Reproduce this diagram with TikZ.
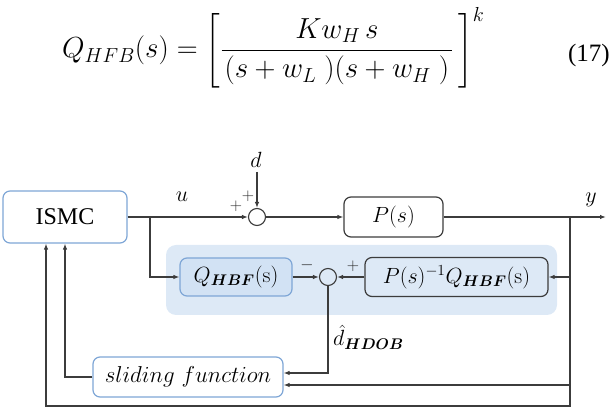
\RequirePackage{fix-cm}
\documentclass[tikz,border=0pt]{standalone}
\usepackage{amsmath}
\usepackage{fontspec}
\newfontfamily\figfont{Liberation Serif}
\usetikzlibrary{calc, positioning, arrows.meta}
\definecolor{lineGray}{HTML}{3C3C3C}
\definecolor{boxBlue}{HTML}{7EA6D6}
\definecolor{regionBlue}{HTML}{DDE9F6}
\definecolor{qFill}{HTML}{D2E2F4}

\begin{document}
\begin{tikzpicture}[x=1pt, y=-1pt, font=\fontsize{22}{26}\selectfont,
    block/.style={draw, rounded corners=7pt, line width=1.2pt, align=center, inner sep=0pt},
    sumnode/.style={circle, draw=lineGray, line width=1.1pt, minimum size=17pt, inner sep=0pt},
    arr/.style={-{Latex[length=6pt,width=4.5pt]}, draw=lineGray, line width=1.2pt},
    sgn/.style={font=\fontsize{17}{19}\selectfont, inner sep=0pt, text=black!85}]
  \useasboundingbox (0,0) rectangle (611,411);

  \node[anchor=base west, inner sep=0pt] (eq) at (62,58) {\fontsize{29}{35}\selectfont
    $\displaystyle Q_{HFB}(s)=\left[\frac{Kw_{H}\,s}{\hspace{3pt}(s+w_{L}\;)(s+w_{H}\;)\hspace{3pt}}\,\right]^k$};
  \node[anchor=base east, inner sep=0pt] (eqno) at (610,62) {\fontsize{25}{30}\selectfont\figfont (17)};

  \node[block, draw=boxBlue, minimum width=124pt, minimum height=52pt, font=\fontsize{24}{28}\selectfont\figfont] (ismc) at (65,217) {ISMC};
  \node[sumnode, fill=white] (sum1) at (257,217) {};
  \node[block, draw=lineGray, minimum width=99pt, minimum height=40pt] (plant) at (393.5,217) {$P(s)$};
  \node (dlabel) at (256,160) {$d$};
  \node (ulabel) at (182,197) {$u$};
  \node (ylabel) at (591,200) {$y$};
  \node[sgn] (p1) at (236,206) {$+$};
  \node[sgn] (p2) at (248,196) {$+$};
  \coordinate (dtop) at (257,172);
  \coordinate (ubr) at (150,217);
  \coordinate (ybr) at (570,217);
  \coordinate (yout) at (606,217);

  \fill[regionBlue, rounded corners=10pt] (166,245) rectangle (557,315);
  \node[block, draw=boxBlue, fill=qFill, minimum width=112pt, minimum height=38pt] (qfilt) at (236,277) {$Q_{\boldsymbol{HBF}}(\mathrm{s})$};
  \node[sumnode, fill=regionBlue] (sum2) at (328,277) {};
  \node[block, draw=lineGray, fill=regionBlue, minimum width=183pt, minimum height=39pt] (pinv) at (456.5,277) {$P(s)^{-1}Q_{\boldsymbol{HBF}}(\mathrm{s})$};
  \node[sgn] (m1) at (307,265) {$-$};
  \node[sgn] (p3) at (353,266) {$+$};
  \node[anchor=west, inner sep=0pt] (dhat) at (333,337) {$\hat{d}_{\boldsymbol{HDOB}}$};

  \node[block, draw=boxBlue, fill=white, minimum width=190pt, minimum height=40pt, font=\fontsize{23}{27}\selectfont] (slide) at (188,377) {$sliding\ function$};
  \coordinate (slideA) at ($(slide.east)+(0,-4)$);
  \coordinate (slideB) at ($(slide.east)+(0,8)$);
  \coordinate (botL) at (46,406);
  \coordinate (botR) at (570,406);

  \draw[arr] (ismc.east) -- (sum1.west);
  \draw[arr] (dtop) -- (sum1.north);
  \draw[arr] (sum1.east) -- (plant.west);
  \draw[arr] (plant.east) -- (yout);
  \draw[arr] (ubr) |- (qfilt.west);
  \draw[arr] (qfilt.east) -- (sum2.west);
  \draw[arr] (pinv.west) -- (sum2.east);
  \draw[arr] (ybr |- pinv.east) -- (pinv.east);
  \draw[arr] (sum2.south) |- (slideA);
  \draw[arr] (ybr |- slideB) -- (slideB);
  \draw[arr] (slide.west) -| (ismc.south);
  \draw[arr] (ybr) -- (botR) -- (botL) -- (botL |- ismc.south);
\end{tikzpicture}
\end{document}
